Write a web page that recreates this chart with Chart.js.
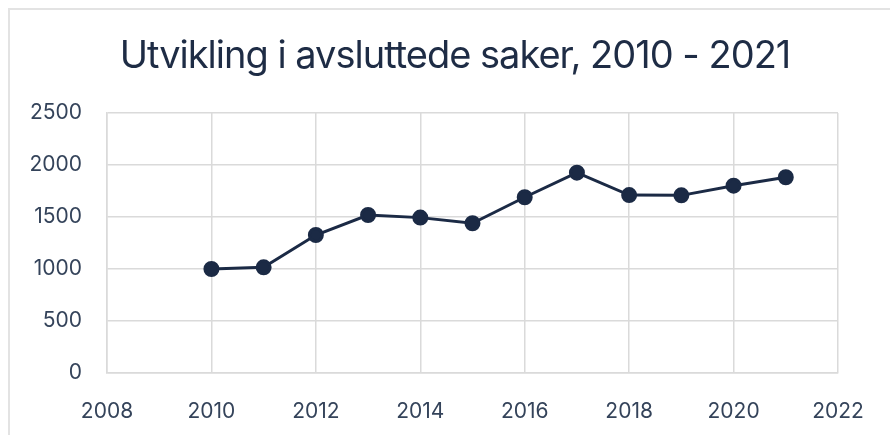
<!DOCTYPE html>
<html>
<head>
<meta charset="utf-8">
<script src="https://cdn.jsdelivr.net/npm/chart.js@4/dist/chart.umd.min.js"></script>
<style>
  html, body { margin: 0; padding: 0; background: #fff; overflow: hidden; }
  #frame {
    position: absolute; left: 8px; top: 8px; width: 1000px; height: 1000px;
    border: 2px solid #e3e3e3; box-sizing: border-box;
  }
  #wrap { position: absolute; left: 0; top: 0; width: 890px; height: 435px; }
</style>
</head>
<body>
<div id="frame"></div>
<div id="wrap"><canvas id="myChart"></canvas></div>
<script>
// Data
const years = [2010, 2011, 2012, 2013, 2014, 2015, 2016, 2017, 2018, 2019, 2020, 2021];
const closedCases = [1000, 1016, 1327, 1519, 1494, 1440, 1690, 1926, 1711, 1708, 1801, 1882];
const xTicks = [2008, 2010, 2012, 2014, 2016, 2018, 2020, 2022];
const yTicks = [0, 500, 1000, 1500, 2000, 2500];
const chartTitle = 'Utvikling i avsluttede saker, 2010 - 2021';

const navy = '#1b2a45';
const textColor = '#34435a';
const gridColor = '#dadada';

const points = years.map((y, i) => ({ x: y, y: closedCases[i] }));

// Title drawn with tighter letter spacing (the built-in title has no option for it)
const tightTitle = {
    id: 'tightTitle',
    afterDraw(chart) {
        const c = chart.ctx;
        c.save();
        c.font = 'normal 38px Inter';
        c.fillStyle = '#1e2c45';
        c.textAlign = 'center';
        c.textBaseline = 'alphabetic';
        c.letterSpacing = '-1px';
        c.fillText(chartTitle, 455, 68);
        c.restore();
    }
};

const ctx = document.getElementById('myChart');

new Chart(ctx, {
    type: 'scatter',
    data: {
        datasets: [{
            label: 'Avsluttede saker',
            data: points,
            showLine: true,
            borderColor: navy,
            backgroundColor: navy,
            borderWidth: 3,
            pointRadius: 6.5,
            pointHoverRadius: 6.5,
        }]
    },
    options: {
        responsive: true,
        maintainAspectRatio: false,
        animation: false,
        layout: {
            padding: { top: 113, left: 9, right: 52, bottom: 0 }
        },
        plugins: {
            legend: { display: false },
            tooltip: { enabled: false },
            title: { display: false }
        },
        scales: {
            x: {
                type: 'linear',
                min: xTicks[0],
                max: xTicks[xTicks.length - 1],
                afterBuildTicks: scale => { scale.ticks = xTicks.map(v => ({ value: v })); },
                afterFit: scale => { scale.height = 62; },
                grid: { color: gridColor, lineWidth: 1.5, drawTicks: false },
                border: { color: gridColor, width: 1.5 },
                ticks: {
                    color: textColor,
                    padding: 26,
                    font: { family: 'Inter', size: 21 },
                    callback: v => String(v)
                }
            },
            y: {
                min: yTicks[0],
                max: yTicks[yTicks.length - 1],
                afterBuildTicks: scale => { scale.ticks = yTicks.map(v => ({ value: v })); },
                afterFit: scale => { scale.width = 98; },
                grid: { color: gridColor, lineWidth: 1.5, drawTicks: false },
                border: { color: gridColor, width: 1.5 },
                ticks: {
                    color: textColor,
                    padding: 25,
                    font: { family: 'Inter', size: 21 },
                    callback: v => String(v)
                }
            }
        }
    },
    plugins: [tightTitle]
});
</script>
</body>
</html>
